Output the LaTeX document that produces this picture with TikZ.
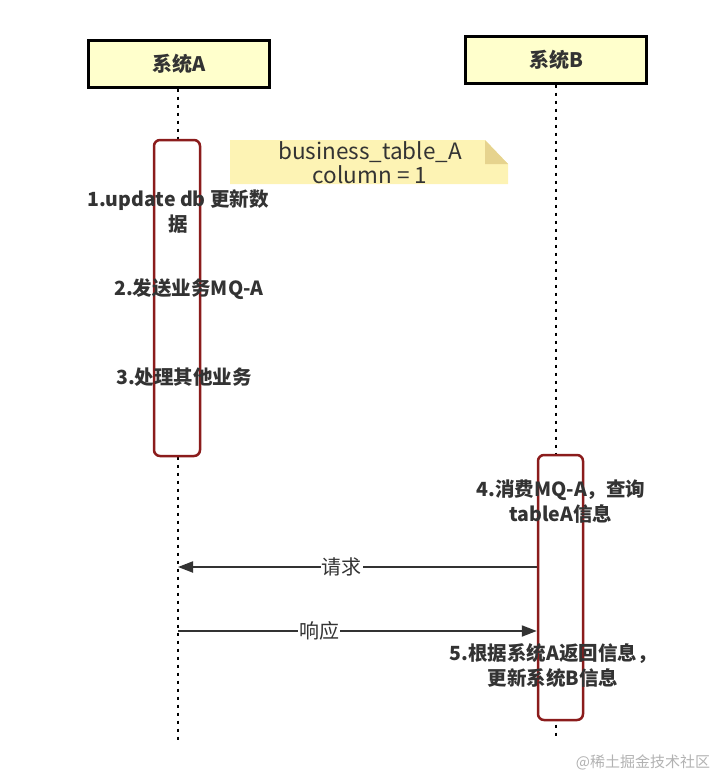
\documentclass[tikz,border=0pt]{standalone}
\usepackage{fontspec}
\setmainfont{Noto Sans CJK SC}
\usepackage{tikz}
\usetikzlibrary{arrows.meta,positioning}
\usepackage{xcolor}
\definecolor{headfill}{HTML}{FFFFCC}
\definecolor{actred}{HTML}{8B1C1C}
\definecolor{notefill}{HTML}{FDF3B4}
\definecolor{notefold}{HTML}{E6D38E}
\definecolor{inkgray}{HTML}{333333}

\begin{document}
\begin{tikzpicture}[
      x=1pt, y=-1pt,
      head/.style={draw=black, line width=3pt, fill=headfill, minimum width=181pt,
                   minimum height=46pt, font=\fontsize{20}{22}\selectfont\bfseries, text=inkgray},
      life/.style={line width=2.8pt, dash pattern=on 3pt off 5pt},
      act/.style={draw=actred, line width=2.5pt, rounded corners=6pt, fill=white,
                  minimum width=46pt, inner sep=0pt},
      stepnote/.style={font=\fontsize{19.5}{25}\selectfont\bfseries, text=inkgray, align=center},
      msg/.style={draw=inkgray, line width=2pt, -{Triangle[length=15pt,width=11pt]}},
      msglabel/.style={fill=white, inner sep=1pt, font=\fontsize{20}{22}\selectfont, text=inkgray},
    ]
    \useasboundingbox (0,0) rectangle (725,776);

    % ---- Lifelines ----
    \node[head] (sysA) at (179,64) {系统A};
    \node[head] (sysB) at (556,60) {系统B};
    \coordinate (endA) at (178,740);
    \coordinate (endB) at (556,740);
    \draw[life] (sysA.south -| endA) -- (endA);
    \draw[life] (sysB.south -| endB) -- (endB);

    % activations
    \node[act, minimum height=316pt] (actA) at (177,298) {};
    \node[act, minimum width=45pt, minimum height=265pt] (actB) at (560.5,587.5) {};

    % ---- Note ----
    \fill[notefill] (230,140) -- (485,140) -- (508,164) -- (508,184) -- (230,184) -- cycle;
    \fill[notefold] (485,140) -- (485,164) -- (508,164) -- cycle;
    \node[font=\fontsize{22.5}{24}\selectfont, text=inkgray, align=center] (note) at (370,163)
      {business\_table\_A\\column = 1};

    % ---- Steps ----
    \node[stepnote] (s1) at (178,211.5) {1.update db 更新数\\据};
    \node[stepnote] (s2) at (189,289) {2.发送业务MQ-A};
    \node[stepnote] (s3) at (184,377) {3.处理其他业务};
    \node[stepnote] (s4) at (561,502) {4.消费MQ-A，查询\\tableA信息};
    \node[stepnote] (s5) at (553,666) {5.根据系统A返回信息，\\更新系统B信息};

    % ---- Messages ----
    \coordinate (reqTo) at (178,567);
    \coordinate (resFrom) at (178,631);
    \draw[msg] (actB.west |- reqTo) -- node[msglabel, pos=0.544] (req) {请求} (reqTo);
    \draw[msg] (resFrom) -- node[msglabel, pos=0.394] (res) {响应} (actB.west |- resFrom);

    % watermark
    \node[font=\fontsize{15}{16}\selectfont, text=black!30] (mark) at (643,762) {@稀土掘金技术社区};
  \end{tikzpicture}
\end{document}
